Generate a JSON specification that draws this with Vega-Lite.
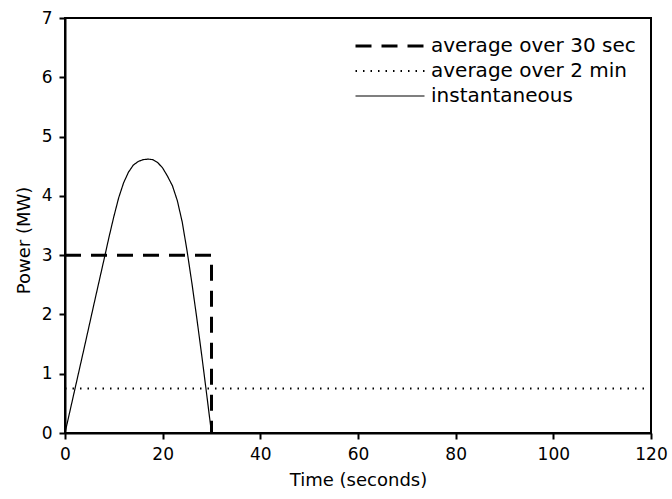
{
  "$schema": "https://vega.github.io/schema/vega-lite/v6.json",
  "width": 586,
  "height": 415,
  "autosize": {"type": "none"},
  "padding": {"left": 65, "top": 18, "right": 21, "bottom": 66},
  "background": "white",
  "config": {
    "view": {"stroke": "black", "strokeWidth": 2},
    "font": "DejaVu Sans",
    "axis": {
      "labelFlush": false,
      "domainColor": "black",
      "domainWidth": 2,
      "labelColor": "black",
      "labelFont": "DejaVu Sans",
      "labelFontSize": 17,
      "titleFont": "DejaVu Sans",
      "titleFontSize": 18,
      "titleFontWeight": "normal",
      "titleColor": "black"
    }
  },
  "data": {
    "values": [
      {"series": "average over 30 sec", "t": 0, "p": 3},
      {"series": "average over 30 sec", "t": 30, "p": 3},
      {"series": "average over 30 sec", "t": 30, "p": 0},
      {"series": "average over 2 min", "t": 0, "p": 0.75},
      {"series": "average over 2 min", "t": 120, "p": 0.75},
      {"series": "instantaneous", "t": 0, "p": 0},
      {"series": "instantaneous", "t": 2, "p": 0.73},
      {"series": "instantaneous", "t": 4, "p": 1.46},
      {"series": "instantaneous", "t": 6, "p": 2.2},
      {"series": "instantaneous", "t": 8, "p": 2.93},
      {"series": "instantaneous", "t": 9, "p": 3.3},
      {"series": "instantaneous", "t": 10, "p": 3.65},
      {"series": "instantaneous", "t": 11, "p": 3.97},
      {"series": "instantaneous", "t": 12, "p": 4.22},
      {"series": "instantaneous", "t": 13, "p": 4.4},
      {"series": "instantaneous", "t": 14, "p": 4.52},
      {"series": "instantaneous", "t": 15, "p": 4.58},
      {"series": "instantaneous", "t": 16, "p": 4.61},
      {"series": "instantaneous", "t": 17, "p": 4.62},
      {"series": "instantaneous", "t": 18, "p": 4.61},
      {"series": "instantaneous", "t": 19, "p": 4.56},
      {"series": "instantaneous", "t": 20, "p": 4.47},
      {"series": "instantaneous", "t": 21, "p": 4.33},
      {"series": "instantaneous", "t": 22, "p": 4.17},
      {"series": "instantaneous", "t": 23, "p": 3.92},
      {"series": "instantaneous", "t": 24, "p": 3.56},
      {"series": "instantaneous", "t": 25, "p": 3.07},
      {"series": "instantaneous", "t": 26, "p": 2.52},
      {"series": "instantaneous", "t": 27, "p": 1.93},
      {"series": "instantaneous", "t": 28, "p": 1.31},
      {"series": "instantaneous", "t": 29, "p": 0.66},
      {"series": "instantaneous", "t": 30, "p": 0},
      {"series": "instantaneous", "t": 120, "p": 0}
    ]
  },
  "mark": {"type": "line", "color": "black"},
  "encoding": {
    "x": {
      "field": "t", "type": "quantitative",
      "scale": {"domain": [0, 120], "nice": false},
      "axis": {"orient": "bottom", "values": [0, 20, 40, 60, 80, 100, 120], "grid": false, "ticks": true, "tickSize": 6, "tickWidth": 2, "tickColor": "black", "title": "Time (seconds)", "labelPadding": 7, "titleBaseline": "alphabetic", "titleX": 293, "titleY": 52}
    },
    "y": {
      "field": "p", "type": "quantitative",
      "scale": {"domain": [0, 7], "nice": false},
      "axis": {"orient": "left", "values": [0, 1, 2, 3, 4, 5, 6, 7], "grid": false, "ticks": true, "tickSize": 6, "tickWidth": 2, "tickColor": "black", "title": "Power (MW)", "labelPadding": 7, "titleAngle": -90, "titleAlign": "center", "titleBaseline": "middle", "titleX": -41, "titleY": 222}
    },
    "strokeDash": {
      "field": "series", "type": "nominal",
      "scale": {"domain": ["average over 30 sec", "average over 2 min", "instantaneous"], "range": [[16, 10], [1.5, 6], [1, 0]]},
      "legend": {"orient": "none", "legendX": 289, "legendY": 18, "title": null, "symbolType": "stroke", "symbolSize": 4761, "symbolStrokeColor": "black", "labelFont": "DejaVu Sans", "labelFontSize": 20, "labelColor": "black", "labelOffset": 5, "labelLimit": 400, "clipHeight": 20, "rowPadding": 5, "padding": 0}
    },
    "strokeWidth": {
      "field": "series", "type": "nominal",
      "scale": {"domain": ["average over 30 sec", "average over 2 min", "instantaneous"], "range": [3, 1.2, 1.2]},
      "legend": {"orient": "none", "legendX": 289, "legendY": 18, "title": null, "symbolType": "stroke", "symbolSize": 4761, "symbolStrokeColor": "black", "labelFont": "DejaVu Sans", "labelFontSize": 20, "labelColor": "black", "labelOffset": 5, "labelLimit": 400, "clipHeight": 20, "rowPadding": 5, "padding": 0}
    },
    "order": {"value": null}
  }
}
